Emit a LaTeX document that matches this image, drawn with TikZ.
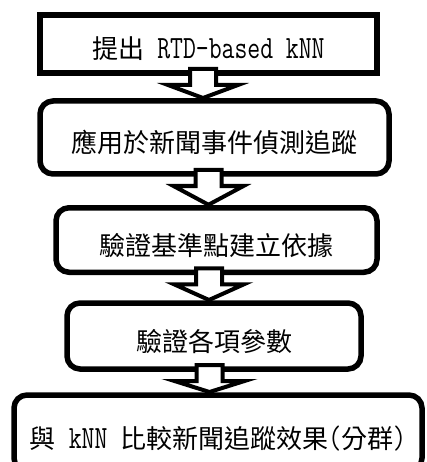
\documentclass[tikz,border=0pt]{standalone}
\usepackage{graphicx}
\usepackage{fontspec}
\newfontfamily\cjkfont{Noto Sans CJK TC}
\usetikzlibrary{calc}
\newcommand\zh[1]{{\fontsize{26}{28}\selectfont\cjkfont #1}}
\newcommand\lat[1]{\scalebox{1}[1.3]{#1}}
\newcommand\flowarrow[3]{%
  \draw[blockarr] let \p1=(#1.south), \p2=(#2.north) in
   (#3pt-13pt,\y1+4pt) -- (#3pt+13pt,\y1+4pt) -- (#3pt+13pt,\y1-12pt)
   -- (#3pt+35pt,\y1-12pt) -- (#3pt,\y2+3pt) -- (#3pt-35pt,\y1-12pt)
   -- (#3pt-13pt,\y1-12pt) -- cycle;}
\tikzset{
  flowbox/.style={draw=black, line width=5.5pt, fill=white, inner sep=0pt, outer sep=0pt,
    text height=30pt, text depth=0pt, font=\fontsize{25}{28}\selectfont\ttfamily},
  roundbox/.style={flowbox, rounded corners=13pt},
  blockarr/.style={draw=black, fill=white, line width=4pt, line join=miter}
}
\begin{document}
\begin{tikzpicture}[x=1pt,y=-1pt]
\useasboundingbox[fill=white] (0,0) rectangle (427,462);
\node[flowbox, minimum width=337pt, minimum height=58pt] (b1) at (208.5,44)
  {\zh{提出} \lat{RTD-based kNN}};
\node[roundbox, minimum width=349pt, minimum height=73pt] (b2) at (214.5,137.5)
  {\zh{應用於新聞事件偵測追蹤}};
\node[roundbox, minimum width=321pt, minimum height=64.5pt] (b3) at (216.5,240)
  {\zh{驗證基準點建立依據}};
\node[roundbox, minimum width=294pt, minimum height=66pt] (b4) at (214,336)
  {\zh{驗證各項參數}};
\node[roundbox, minimum width=408pt, minimum height=76pt] (b5) at (218,433)
  {\zh{與} \lat{kNN} \zh{比較新聞追蹤效果}\lat{(}\zh{分群}\lat{)}};
\flowarrow{b1}{b2}{203}
\flowarrow{b2}{b3}{208.5}
\flowarrow{b3}{b4}{209}
\flowarrow{b4}{b5}{209.5}
\end{tikzpicture}
\end{document}
